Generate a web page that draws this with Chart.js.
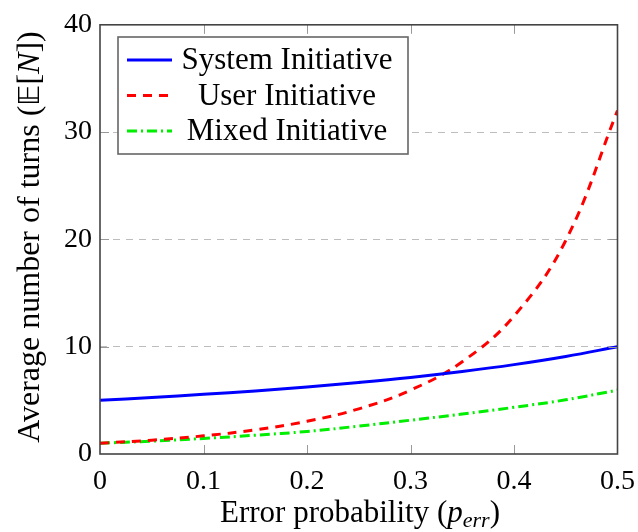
<!DOCTYPE html>
<html>
<head>
<meta charset="utf-8">
<script src="https://cdn.jsdelivr.net/npm/chart.js@4"></script>
<style>
  html, body { margin: 0; padding: 0; background: #fff; }
  #wrap { width: 638px; height: 532px; position: relative; }
</style>
</head>
<body>
<div id="wrap"><canvas id="chart"></canvas></div>
<script>
const FONT = '"Liberation Serif", "DejaVu Serif", serif';

// error probability (x) and expected number of turns for each strategy
const pErr = [0, 0.05, 0.1, 0.15, 0.2, 0.25, 0.3, 0.35, 0.4, 0.45, 0.5];
const systemInitiative = [5.0, 5.26, 5.56, 5.88, 6.25, 6.67, 7.14, 7.69, 8.33, 9.09, 10.0];
const userInitiative = [1.0, 1.29, 1.69, 2.25, 3.05, 4.21, 5.95, 8.6, 12.86, 19.9, 32.0];
const mixedInitiative = [1.0, 1.2, 1.45, 1.75, 2.1, 2.6, 3.15, 3.72, 4.35, 5.05, 5.95];

const xTicks = [0, 0.1, 0.2, 0.3, 0.4, 0.5];
const yTicks = [0, 10, 20, 30, 40];
const seriesLabels = ["System Initiative", "User Initiative", "Mixed Initiative"];

const toPoints = values => values.map((v, i) => ({ x: pErr[i], y: v }));

// frame with inward ticks, legend box and the two axis titles
const decorations = {
  id: "decorations",
  afterDatasetsDraw(chart) {
    const { ctx, chartArea: a, scales } = chart;
    ctx.save();

    // inward tick marks on all four sides
    ctx.strokeStyle = "#999";
    ctx.lineWidth = 1;
    const tl = 9;
    xTicks.slice(1, -1).forEach(v => {
      const x = Math.round(scales.x.getPixelForValue(v)) + 0.5;
      ctx.beginPath();
      ctx.moveTo(x, a.bottom); ctx.lineTo(x, a.bottom - tl);
      ctx.moveTo(x, a.top); ctx.lineTo(x, a.top + tl);
      ctx.stroke();
    });
    yTicks.slice(1, -1).forEach(v => {
      const y = Math.round(scales.y.getPixelForValue(v)) + 0.5;
      ctx.beginPath();
      ctx.moveTo(a.left, y); ctx.lineTo(a.left + tl, y);
      ctx.moveTo(a.right, y); ctx.lineTo(a.right - tl, y);
      ctx.stroke();
    });

    // frame
    ctx.strokeStyle = "#444";
    ctx.lineWidth = 1.6;
    ctx.strokeRect(a.left, a.top, a.right - a.left, a.bottom - a.top);

    // legend
    const box = { x: 118, y: 37, w: 290, h: 117 };
    ctx.fillStyle = "#fff";
    ctx.fillRect(box.x, box.y, box.w, box.h);
    ctx.strokeStyle = "#666";
    ctx.lineWidth = 1.6;
    ctx.strokeRect(box.x, box.y, box.w, box.h);
    chart.data.datasets.forEach((ds, i) => {
      const y = 60 + i * 35.5;
      ctx.strokeStyle = ds.borderColor;
      ctx.lineWidth = ds.borderWidth;
      ctx.setLineDash(ds.borderDash || []);
      ctx.beginPath();
      ctx.moveTo(127, y); ctx.lineTo(172, y);
      ctx.stroke();
      ctx.setLineDash([]);
      ctx.fillStyle = "#000";
      ctx.font = "31px " + FONT;
      ctx.textAlign = "center";
      ctx.textBaseline = "middle";
      ctx.fillText(ds.label, 287, y + 1);
    });

    // x axis title: Error probability (p_err)
    ctx.fillStyle = "#000";
    ctx.textBaseline = "alphabetic";
    ctx.textAlign = "left";
    const partsX = [
      { t: "Error probability (", f: "31px " + FONT, dy: 0 },
      { t: "p", f: "italic 31px " + FONT, dy: 0 },
      { t: "err", f: "italic 22px " + FONT, dy: 5 },
      { t: ")", f: "31px " + FONT, dy: 0 }
    ];
    drawParts(ctx, partsX, 360, 522);

    // y axis title, rotated
    ctx.translate(39, 237);
    ctx.rotate(-Math.PI / 2);
    const partsY = [
      { t: "Average number of turns (", f: "32px " + FONT, dy: 0 },
      { t: "\u{1D53C}", f: "29px \"DejaVu Sans\", " + FONT, dy: 0 },
      { t: "[", f: "32px " + FONT, dy: 0 },
      { t: "N", f: "italic 32px " + FONT, dy: 0 },
      { t: "])", f: "32px " + FONT, dy: 0 }
    ];
    drawParts(ctx, partsY, 0, 0);
    ctx.restore();
  }
};

function drawParts(ctx, parts, cx, baseline) {
  let total = 0;
  parts.forEach(p => { ctx.font = p.f; p.w = ctx.measureText(p.t).width; total += p.w; });
  let x = cx - total / 2;
  parts.forEach(p => {
    ctx.font = p.f;
    ctx.fillText(p.t, x, baseline + p.dy);
    x += p.w;
  });
}

new Chart(document.getElementById("chart"), {
  type: "line",
  data: {
    datasets: [
      {
        label: seriesLabels[0],
        data: toPoints(systemInitiative),
        borderColor: "#0000ff",
        borderWidth: 3
      },
      {
        label: seriesLabels[1],
        data: toPoints(userInitiative),
        borderColor: "#ff0000",
        borderWidth: 3,
        borderDash: [9, 7]
      },
      {
        label: seriesLabels[2],
        data: toPoints(mixedInitiative),
        borderColor: "#00ee00",
        borderWidth: 3,
        borderDash: [10, 4, 2, 4]
      }
    ]
  },
  options: {
    responsive: true,
    maintainAspectRatio: false,
    animation: false,
    layout: { padding: { top: 23, right: 19, left: 0, bottom: 0 } },
    elements: {
      point: { radius: 0 },
      line: { tension: 0.4, fill: false }
    },
    plugins: {
      legend: { display: false },
      tooltip: { enabled: false }
    },
    scales: {
      x: {
        type: "linear",
        min: 0,
        max: 0.5,
        afterBuildTicks: scale => { scale.ticks = xTicks.map(v => ({ value: v })); },
        afterFit: scale => { scale.height = 78; },
        grid: { display: false },
        border: { display: false },
        ticks: {
          color: "#000",
          padding: 3,
          maxRotation: 0,
          font: { family: FONT, size: 28 },
          callback: value => String(value)
        }
      },
      y: {
        min: 0,
        max: 40,
        afterBuildTicks: scale => { scale.ticks = yTicks.map(v => ({ value: v })); },
        afterFit: scale => { scale.width = 100; },
        grid: {
          drawTicks: false,
          color: ctx => (ctx.tick && (ctx.tick.value === 0 || ctx.tick.value === 40)) ? "rgba(0,0,0,0)" : "#bdbdbd",
          lineWidth: 1
        },
        border: { display: false, dash: [7, 6] },
        ticks: {
          color: "#000",
          padding: 8,
          font: { family: FONT, size: 28 },
          callback: value => String(value)
        }
      }
    }
  },
  plugins: [decorations]
});
</script>
</body>
</html>
